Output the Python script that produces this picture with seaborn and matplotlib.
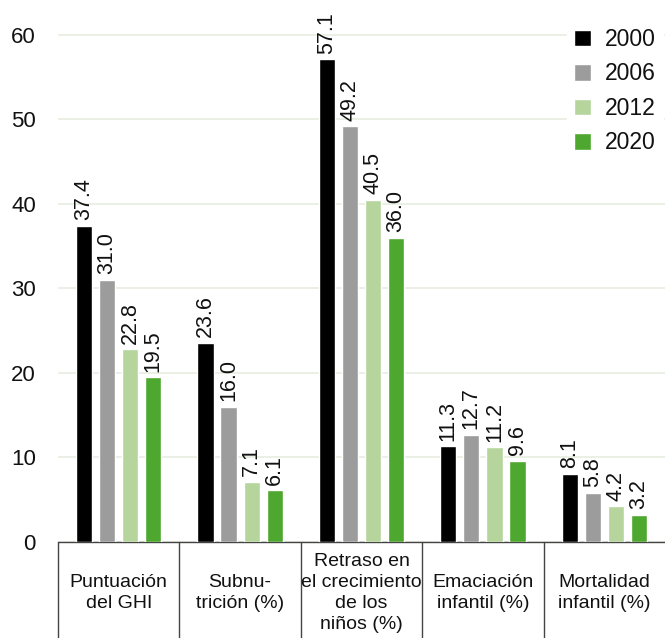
import pandas as pd
import matplotlib.pyplot as plt
import seaborn as sns

# Data
categories = ['Puntuación\ndel GHI', 'Subnu-\ntrición (%)',
              'Retraso en\nel crecimiento\nde los\nniños (%)',
              'Emaciación\ninfantil (%)', 'Mortalidad\ninfantil (%)']
years = ['2000', '2006', '2012', '2020']
v2000 = [37.4, 23.6, 57.1, 11.3, 8.1]
v2006 = [31.0, 16.0, 49.2, 12.7, 5.8]
v2012 = [22.8, 7.1, 40.5, 11.2, 4.2]
v2020 = [19.5, 6.1, 36.0, 9.6, 3.2]
colors = ['#000000', '#9c9c9c', '#b5d59d', '#4ea72e']

rows = []
for yr, vals in zip(years, [v2000, v2006, v2012, v2020]):
    for cat, v in zip(categories, vals):
        rows.append({'cat': cat, 'year': yr, 'value': v})
df = pd.DataFrame(rows)

sns.set_style('white')
plt.rcParams['font.family'] = ['Liberation Sans', 'DejaVu Sans']
plt.rcParams['text.color'] = '#111111'
plt.rcParams['ytick.color'] = '#111111'

fig = plt.figure(figsize=(6.65, 6.38), dpi=100)
ax = fig.add_axes([58 / 665, 96 / 638, 1 - 58 / 665, 541 / 638])

sns.barplot(data=df, x='cat', y='value', hue='year', palette=colors,
            order=categories, hue_order=years, width=0.76, gap=0.3,
            saturation=1, ax=ax, zorder=3)

for cont in ax.containers:
    ax.bar_label(cont, fmt='%.1f', rotation=90, padding=4, fontsize=15.5)

ax.set_xlim(-0.5, 4.5)
ax.set_ylim(0, 64)
ax.set_yticks([0, 10, 20, 30, 40, 50, 60])
ax.tick_params(axis='y', labelsize=16, pad=16, length=0)
ax.set_xticks([])
ax.set_xlabel('')
ax.set_ylabel('')
for s in ax.spines.values():
    s.set_visible(False)
ax.yaxis.grid(True, color='#e6eee0', linewidth=1.2, zorder=0)
ax.set_axisbelow(True)

# table-like category axis below the bars
trans = ax.get_xaxis_transform()
ax.plot([-0.5, 4.5], [0, 0], color='#444444', lw=1.0, transform=trans, clip_on=False)
for b in [-0.5, 0.5, 1.5, 2.5, 3.5]:
    ax.plot([b, b], [0, -0.2], color='#444444', lw=1.0, transform=trans, clip_on=False)
for i, cat in enumerate(categories):
    ax.text(i, -0.094, cat, transform=trans, ha='center', va='center', fontsize=14,
            linespacing=1.3)

leg = ax.legend(loc='upper right', bbox_to_anchor=(1.0, 0.967), frameon=True,
                fontsize=16.5, handlelength=0.75, handleheight=0.75, labelspacing=0.5,
                borderaxespad=0.1, handletextpad=0.6, borderpad=0.3)
leg.get_frame().set_edgecolor('white')
leg.get_frame().set_facecolor('white')
leg.get_frame().set_alpha(1)

fig.savefig('out.png', dpi=100)
